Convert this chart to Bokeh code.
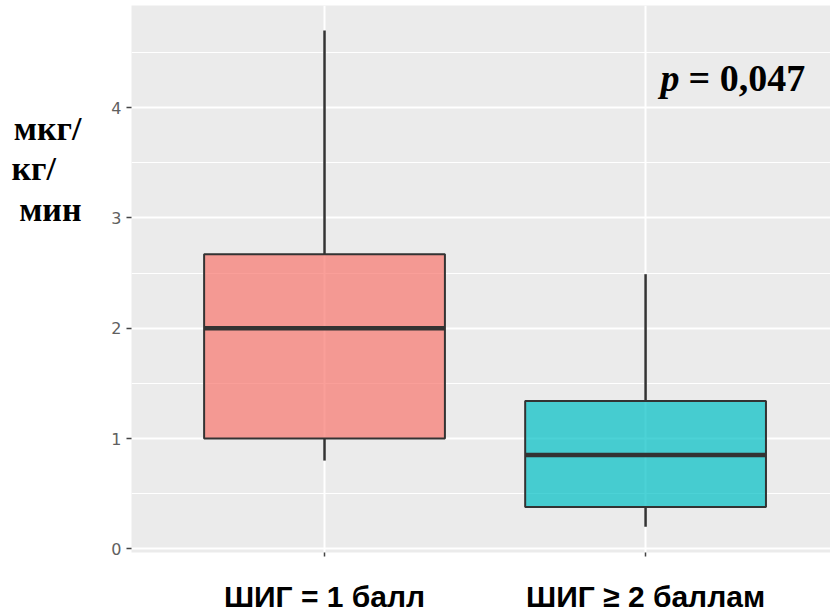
from bokeh.plotting import figure
from bokeh.models import (ColumnDataSource, Range1d, FixedTicker, SingleIntervalTicker,
                          Label, LinearAxis)
from bokeh.embed import file_html
from bokeh.resources import INLINE

# ---- data ----
groups = ["ШИГ = 1 балл", "ШИГ ≥ 2 баллам"]
xpos = [1, 2]
whisker_low = [0.80, 0.20]
q1 = [1.00, 0.38]
median = [2.00, 0.85]
q3 = [2.67, 1.34]
whisker_high = [4.70, 2.49]
colors = ["#F8766D", "#00BFC4"]
y_title_lines = ["мкг/", "кг/\u00a0\u00a0\u00a0", "мин"]
y_title_pos = [3.81, 3.45, 3.08]
p_text = "= 0,047"

box_w = 0.75
src = ColumnDataSource(dict(
    x=xpos, low=whisker_low, q1=q1, med=median, q3=q3, high=whisker_high,
    color=colors,
    left=[v - box_w / 2 for v in xpos], right=[v + box_w / 2 for v in xpos],
))

p = figure(width=830, height=616, output_backend="svg", toolbar_location=None,
           x_range=Range1d(0.3988, 2.576), y_range=Range1d(-0.0335, 4.926),
           min_border_left=131, min_border_right=0, min_border_top=5,
           min_border_bottom=64)
p.background_fill_color = "#EBEBEB"
p.border_fill_color = "white"
p.outline_line_color = None

# y axis (numbers)
p.yaxis.ticker = SingleIntervalTicker(interval=1, num_minor_ticks=2)
p.yaxis.axis_line_color = None
p.yaxis.major_tick_line_color = "#444444"
p.yaxis.major_tick_line_width = 1.5
p.yaxis.major_tick_out = 5
p.yaxis.major_tick_in = 0
p.yaxis.minor_tick_line_color = None
p.yaxis.major_label_text_font = "DejaVu Sans"
p.yaxis.major_label_text_font_size = "16px"
p.yaxis.major_label_text_color = "#606060"
p.yaxis.major_label_standoff = 5

# y title as an outer axis with horizontal labels
ytitle_axis = LinearAxis(ticker=FixedTicker(ticks=y_title_pos),
                         major_label_overrides={v: t for v, t in zip(y_title_pos, y_title_lines)},
                         axis_line_color=None, major_tick_line_color=None,
                         minor_tick_line_color=None, major_label_standoff=21,
                         major_label_text_font="Liberation Serif",
                         major_label_text_font_style="bold",
                         major_label_text_font_size="34px",
                         major_label_text_color="black")
p.add_layout(ytitle_axis, "left")

# x axis (category labels)
p.xaxis.ticker = FixedTicker(ticks=xpos)
p.xaxis.major_label_overrides = {v: g for v, g in zip(xpos, groups)}
p.xaxis.axis_line_color = None
p.xaxis.major_tick_line_color = "#444444"
p.xaxis.major_tick_line_width = 1.5
p.xaxis.major_tick_out = 4
p.xaxis.major_tick_in = 0
p.xaxis.minor_tick_line_color = None
p.xaxis.major_label_standoff = 23
p.xaxis.major_label_text_font = "Liberation Sans"
p.xaxis.major_label_text_font_style = "bold"
p.xaxis.major_label_text_font_size = "30px"
p.xaxis.major_label_text_color = "black"

# grid
p.ygrid.grid_line_color = "white"
p.ygrid.grid_line_width = 2
p.ygrid.minor_grid_line_color = "white"
p.ygrid.minor_grid_line_width = 1
p.xgrid.ticker = FixedTicker(ticks=xpos)
p.xgrid.grid_line_color = "white"
p.xgrid.grid_line_width = 2

# whiskers
p.segment(x0="x", y0="q3", x1="x", y1="high", source=src, line_color="#333333", line_width=2.5)
p.segment(x0="x", y0="low", x1="x", y1="q1", source=src, line_color="#333333", line_width=2.5)
# boxes
p.vbar(x="x", width=box_w, bottom="q1", top="q3", source=src, fill_color="color",
       fill_alpha=0.7, line_color="#333333", line_width=2)
# medians
p.segment(x0="left", y0="med", x1="right", y1="med", source=src, line_color="#333333", line_width=4.5)

# ---- p-value annotation ----
def ydata(py):
    return (548.3 - py) / 110.3

def xdata(px):
    return 1 + (px - 324) / 321

p.add_layout(Label(x=xdata(660), y=ydata(77), text="p", text_font="Liberation Serif",
                   text_font_style="bold italic", text_font_size="38px", text_color="black",
                   text_align="left", text_baseline="alphabetic"))
p.add_layout(Label(x=xdata(688), y=ydata(77), text=p_text, text_font="Liberation Serif",
                   text_font_style="bold", text_font_size="38px", text_color="black",
                   text_align="left", text_baseline="alphabetic"))

open("out.html", "w").write(file_html(p, INLINE))
